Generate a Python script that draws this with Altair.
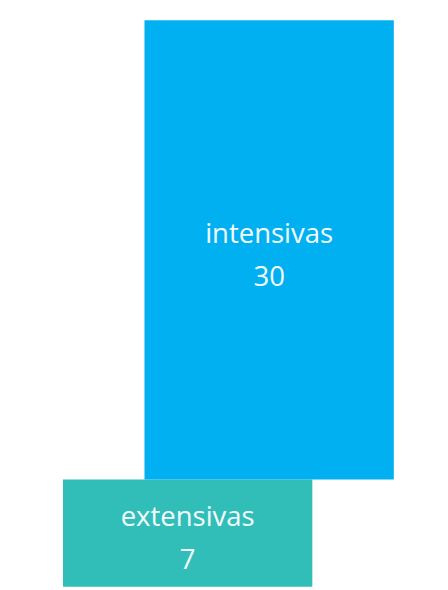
import altair as alt
import pandas as pd

categories = ["intensivas", "extensivas"]
values = [30, 7]
col_start = [1.0, 0.0]
col_end = [4.06, 3.06]
colors = ["#00B0F0", "#31BEB8"]

rows = []
base = 0
# stack from bottom: extensivas first, then intensivas
for c, v, s, e in reversed(list(zip(categories, values, col_start, col_end))):
    rows.append({"cat": c, "value": v, "y0": base, "y1": base + v,
                 "x0": s, "x1": e, "xm": (s + e) / 2, "ym": base + v / 2})
    base += v
df = pd.DataFrame(rows)

xs = alt.Scale(domain=[-0.675, 4.627], nice=False, zero=False)
ys = alt.Scale(domain=[0, 37], nice=False, zero=False)

rects = alt.Chart(df).mark_rect().encode(
    x=alt.X("x0:Q", scale=xs, axis=None),
    x2="x1:Q",
    y=alt.Y("y0:Q", scale=ys, axis=None),
    y2="y1:Q",
    color=alt.Color("cat:N", scale=alt.Scale(domain=categories, range=colors), legend=None),
)

texts = alt.Chart(df).transform_calculate(
    label="datum.cat + '\\n' + datum.value"
).mark_text(
    font="Open Sans", fontSize=28, color="#f4fbff", lineBreak="\n",
    lineHeight=44, baseline="alphabetic", align="center", dy=-7
).encode(
    x=alt.X("xm:Q", scale=xs, axis=None),
    y=alt.Y("ym:Q", scale=ys, axis=None),
    text="label:N",
)

chart = (rects + texts).properties(
    width=440, height=577,
    padding={"top": 7, "left": 0, "right": 0, "bottom": 0},
    autosize=alt.AutoSizeParams(type="none"),
).configure_view(stroke=None)

chart.save("out.html", embed_options={"renderer": "svg", "actions": False})
